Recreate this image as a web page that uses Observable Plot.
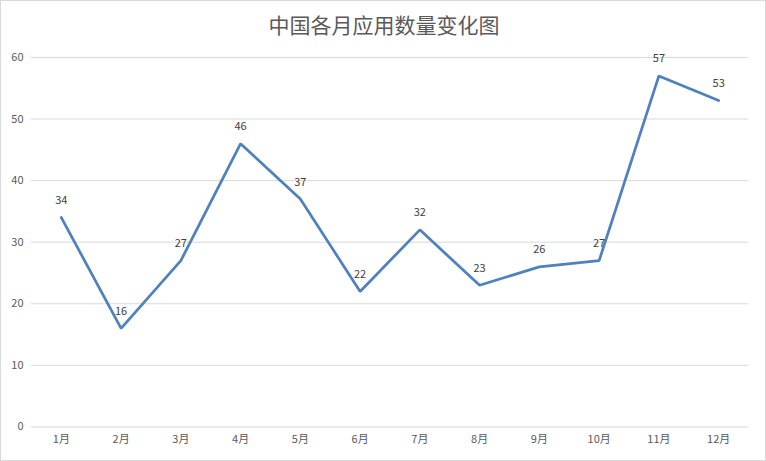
<!DOCTYPE html>
<html>
<head>
<meta charset="utf-8">
<script src="https://cdn.jsdelivr.net/npm/d3@7"></script>
<script src="https://cdn.jsdelivr.net/npm/@observablehq/plot@0.6"></script>
<style>
  html, body { margin: 0; padding: 0; background: #fff; }
  #wrap { position: relative; width: 766px; height: 461px; box-sizing: border-box; border: 1px solid #d9d9d9; overflow: hidden; }
  #title { position: absolute; top: 8px; left: 0; width: 766px; text-align: center; font: 21px "Noto Sans CJK SC", sans-serif; color: #595959; }
  #chart { position: absolute; top: -1px; left: -1px; }
</style>
</head>
<body>
<div id="wrap">
  <div id="chart"></div>
  <div id="title">中国各月应用数量变化图</div>
</div>
<script>
const months = ["1月","2月","3月","4月","5月","6月","7月","8月","9月","10月","11月","12月"];
const counts = [34,16,27,46,37,22,32,23,26,27,57,53];
const yTicks = [0,10,20,30,40,50,60];

const data = months.map((m, i) => ({month: m, value: counts[i]}));

const chart = Plot.plot({
  width: 766,
  height: 461,
  marginTop: 57,
  marginBottom: 34,
  marginLeft: 31,
  marginRight: 17,
  style: {fontFamily: "'Noto Sans CJK SC', sans-serif", fontSize: "11px", color: "#595959", background: "transparent"},
  x: {type: "band", domain: months, padding: 0, round: false, label: null, tickSize: 0, tickPadding: 8},
  y: {domain: [0, 60], ticks: yTicks, label: null, tickSize: 0, tickPadding: 8},
  marks: [
    Plot.gridY(yTicks, {stroke: "#d9d9d9", strokeOpacity: 1, strokeWidth: 1}),
    Plot.line(data, {x: "month", y: "value", stroke: "#4f81bd", strokeWidth: 2.75, strokeLinejoin: "miter"}),
    Plot.text(data, {x: "month", y: "value", text: d => String(d.value), dy: -17, fill: "#404040", fontSize: 11})
  ]
});
document.getElementById("chart").appendChild(chart);
</script>
</body>
</html>
